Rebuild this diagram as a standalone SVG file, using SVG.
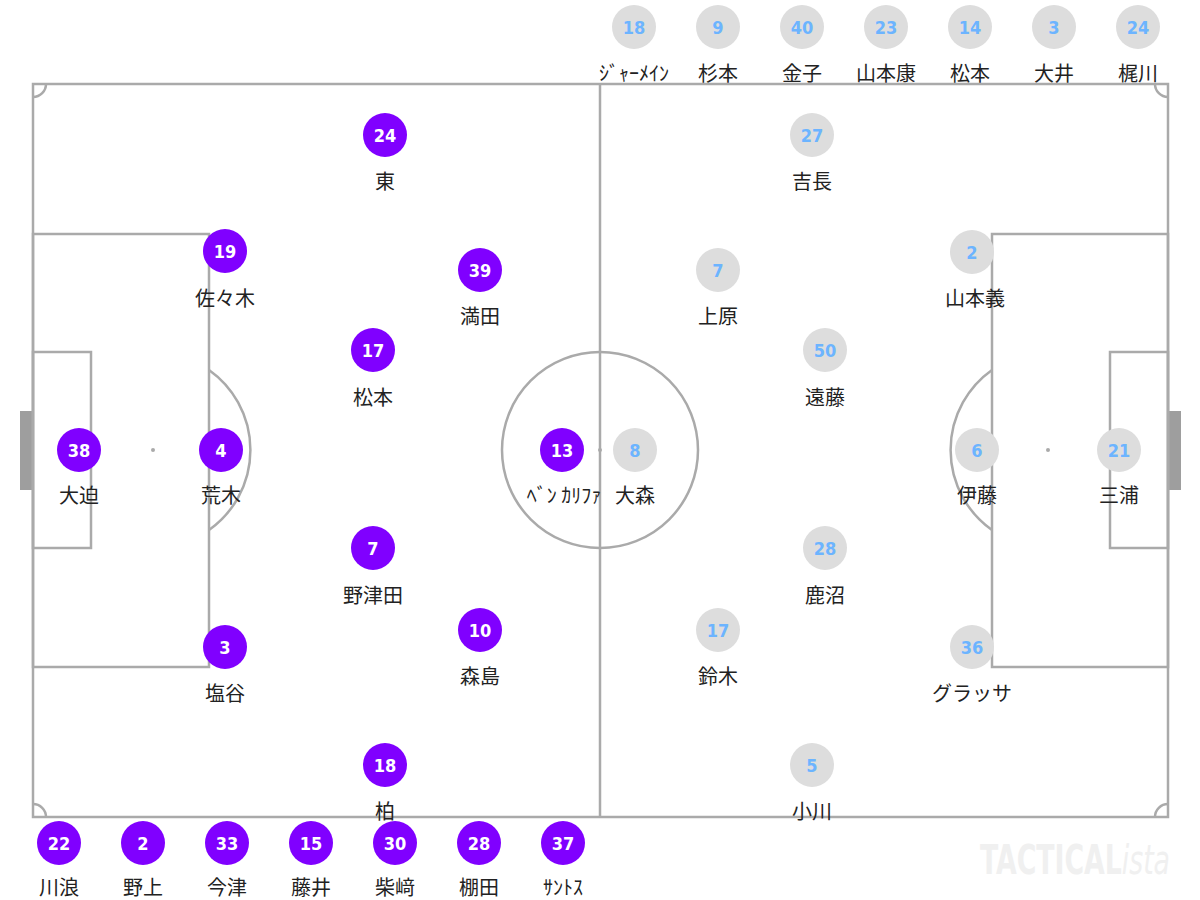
<svg xmlns="http://www.w3.org/2000/svg" width="1200" height="900" viewBox="0 0 1200 900">
<style>
.line{fill:none;stroke:#aaaaaa;stroke-width:2.5}
.goal{fill:#9e9e9e}
.spot{fill:#aaaaaa}
.h{fill:#8000ff}
.a{fill:#dddddd}
.hn{fill:#ffffff;font-family:"Liberation Sans Narrow","DejaVu Sans Condensed",sans-serif;font-stretch:condensed;font-weight:bold;font-size:18px;text-anchor:middle;dominant-baseline:central}
.an{fill:#6cb4ff;font-family:"Liberation Sans Narrow","DejaVu Sans Condensed",sans-serif;font-stretch:condensed;font-weight:bold;font-size:18px;text-anchor:middle;dominant-baseline:central}
.nm{fill:#222222;font-family:"Noto Sans CJK JP",sans-serif;font-size:20px;text-anchor:middle;dominant-baseline:central}
</style>
<rect width="1200" height="900" fill="#ffffff"/>
<g id="pitch">
<rect class="goal" x="20" y="411" width="13" height="79"/>
<rect class="goal" x="1168" y="411" width="13" height="79"/>
<rect class="line" x="33" y="84" width="1135" height="733"/>
<line class="line" x1="600" y1="84" x2="600" y2="817"/>
<circle class="line" cx="600" cy="450" r="98"/>
<circle class="spot" cx="600" cy="450" r="2"/>
<rect class="line" x="33" y="234" width="176" height="433"/>
<rect class="line" x="33" y="352" width="58" height="196"/>
<circle class="spot" cx="153" cy="450" r="2"/>
<path class="line" d="M209 370 A98 98 0 0 1 209 530"/>
<rect class="line" x="992" y="234" width="176" height="433"/>
<rect class="line" x="1110" y="352" width="58" height="196"/>
<circle class="spot" cx="1048" cy="450" r="2"/>
<path class="line" d="M992 370 A98 98 0 0 0 992 530"/>
<path class="line" d="M33 97 A13 13 0 0 0 46 84"/>
<path class="line" d="M1155 84 A13 13 0 0 0 1168 97"/>
<path class="line" d="M33 804 A13 13 0 0 1 46 817"/>
<path class="line" d="M1155 817 A13 13 0 0 1 1168 804"/>
</g>
<g id="watermark">
<text x="980" y="860" fill="#f0f0f0" font-family="'Liberation Sans Narrow','DejaVu Sans Condensed',sans-serif" font-stretch="condensed" font-size="40" dominant-baseline="central" textLength="190" lengthAdjust="spacingAndGlyphs"><tspan font-weight="bold">TACTICAL</tspan><tspan font-style="italic" font-weight="normal">ista</tspan></text>
</g>
<g id="connectors"></g>
<g id="home">
<g id="h24"><circle class="h" cx="385" cy="135" r="22"/><text class="hn" x="385" y="135">24</text><text class="nm" x="385" y="180">東</text></g>
<g id="h19"><circle class="h" cx="225" cy="251" r="22"/><text class="hn" x="225" y="251">19</text><text class="nm" x="225" y="297">佐々木</text></g>
<g id="h39"><circle class="h" cx="480" cy="270" r="22"/><text class="hn" x="480" y="270">39</text><text class="nm" x="480" y="315">満田</text></g>
<g id="h17"><circle class="h" cx="373" cy="350" r="22"/><text class="hn" x="373" y="350">17</text><text class="nm" x="373" y="396">松本</text></g>
<g id="h38"><circle class="h" cx="79" cy="450" r="22"/><text class="hn" x="79" y="450">38</text><text class="nm" x="79" y="494">大迫</text></g>
<g id="h4"><circle class="h" cx="221" cy="450" r="22"/><text class="hn" x="221" y="450">4</text><text class="nm" x="221" y="494">荒木</text></g>
<g id="h13"><circle class="h" cx="562" cy="450" r="22"/><text class="hn" x="562" y="450">13</text><text class="nm" x="564" y="494">ﾍﾞﾝ ｶﾘﾌｧ</text></g>
<g id="h7"><circle class="h" cx="373" cy="548" r="22"/><text class="hn" x="373" y="548">7</text><text class="nm" x="373" y="594">野津田</text></g>
<g id="h10"><circle class="h" cx="480" cy="630" r="22"/><text class="hn" x="480" y="630">10</text><text class="nm" x="480" y="675">森島</text></g>
<g id="h3"><circle class="h" cx="225" cy="647" r="22"/><text class="hn" x="225" y="647">3</text><text class="nm" x="225" y="692">塩谷</text></g>
<g id="h18"><circle class="h" cx="385" cy="765" r="22"/><text class="hn" x="385" y="765">18</text><text class="nm" x="385" y="810">柏</text></g>
</g>
<g id="away">
<g id="a27"><circle class="a" cx="812" cy="135" r="22"/><text class="an" x="812" y="135">27</text><text class="nm" x="812" y="180">吉長</text></g>
<g id="a7"><circle class="a" cx="718" cy="270" r="22"/><text class="an" x="718" y="270">7</text><text class="nm" x="718" y="315">上原</text></g>
<g id="a2"><circle class="a" cx="972" cy="252" r="22"/><text class="an" x="972" y="252">2</text><text class="nm" x="975" y="297">山本義</text></g>
<g id="a50"><circle class="a" cx="825" cy="350" r="22"/><text class="an" x="825" y="350">50</text><text class="nm" x="825" y="396">遠藤</text></g>
<g id="a8"><circle class="a" cx="635" cy="450" r="22"/><text class="an" x="635" y="450">8</text><text class="nm" x="635" y="494">大森</text></g>
<g id="a6"><circle class="a" cx="977" cy="450" r="22"/><text class="an" x="977" y="450">6</text><text class="nm" x="977" y="494">伊藤</text></g>
<g id="a21"><circle class="a" cx="1119" cy="450" r="22"/><text class="an" x="1119" y="450">21</text><text class="nm" x="1119" y="494">三浦</text></g>
<g id="a28"><circle class="a" cx="825" cy="548" r="22"/><text class="an" x="825" y="548">28</text><text class="nm" x="825" y="594">鹿沼</text></g>
<g id="a17"><circle class="a" cx="718" cy="630" r="22"/><text class="an" x="718" y="630">17</text><text class="nm" x="718" y="675">鈴木</text></g>
<g id="a36"><circle class="a" cx="972" cy="647" r="22"/><text class="an" x="972" y="647">36</text><text class="nm" x="972" y="692">グラッサ</text></g>
<g id="a5"><circle class="a" cx="812" cy="765" r="22"/><text class="an" x="812" y="765">5</text><text class="nm" x="812" y="810">小川</text></g>
</g>
<g id="away-bench">
<g id="ab18"><circle class="a" cx="634" cy="27" r="22"/><text class="an" x="634" y="27">18</text><text class="nm" x="634" y="72">ｼﾞｬｰﾒｲﾝ</text></g>
<g id="ab9"><circle class="a" cx="718" cy="27" r="22"/><text class="an" x="718" y="27">9</text><text class="nm" x="718" y="72">杉本</text></g>
<g id="ab40"><circle class="a" cx="802" cy="27" r="22"/><text class="an" x="802" y="27">40</text><text class="nm" x="802" y="72">金子</text></g>
<g id="ab23"><circle class="a" cx="886" cy="27" r="22"/><text class="an" x="886" y="27">23</text><text class="nm" x="886" y="72">山本康</text></g>
<g id="ab14"><circle class="a" cx="970" cy="27" r="22"/><text class="an" x="970" y="27">14</text><text class="nm" x="970" y="72">松本</text></g>
<g id="ab3"><circle class="a" cx="1054" cy="27" r="22"/><text class="an" x="1054" y="27">3</text><text class="nm" x="1054" y="72">大井</text></g>
<g id="ab24"><circle class="a" cx="1138" cy="27" r="22"/><text class="an" x="1138" y="27">24</text><text class="nm" x="1138" y="72">梶川</text></g>
</g>
<g id="home-bench">
<g id="hb22"><circle class="h" cx="59" cy="843" r="22"/><text class="hn" x="59" y="843">22</text><text class="nm" x="59" y="886">川浪</text></g>
<g id="hb2"><circle class="h" cx="143" cy="843" r="22"/><text class="hn" x="143" y="843">2</text><text class="nm" x="143" y="886">野上</text></g>
<g id="hb33"><circle class="h" cx="227" cy="843" r="22"/><text class="hn" x="227" y="843">33</text><text class="nm" x="227" y="886">今津</text></g>
<g id="hb15"><circle class="h" cx="311" cy="843" r="22"/><text class="hn" x="311" y="843">15</text><text class="nm" x="311" y="886">藤井</text></g>
<g id="hb30"><circle class="h" cx="395" cy="843" r="22"/><text class="hn" x="395" y="843">30</text><text class="nm" x="395" y="886">柴﨑</text></g>
<g id="hb28"><circle class="h" cx="479" cy="843" r="22"/><text class="hn" x="479" y="843">28</text><text class="nm" x="479" y="886">棚田</text></g>
<g id="hb37"><circle class="h" cx="563" cy="843" r="22"/><text class="hn" x="563" y="843">37</text><text class="nm" x="563" y="886">ｻﾝﾄｽ</text></g>
</g>
</svg>
